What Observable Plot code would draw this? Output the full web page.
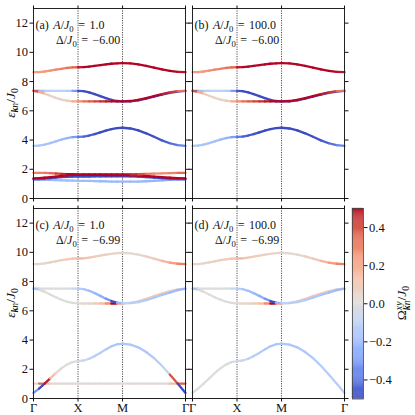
<!DOCTYPE html>
<html>
<head>
<meta charset="utf-8">
<script src="https://cdn.jsdelivr.net/npm/d3@7"></script>
<script src="https://cdn.jsdelivr.net/npm/@observablehq/plot@0.6"></script>
<style>
  html, body { margin: 0; padding: 0; background: #fff; }
  #root { position: relative; width: 415px; height: 415px; overflow: hidden; font-family: "Liberation Serif", "DejaVu Serif", serif; color: #111; }
  .abs { position: absolute; }
  .ann { position: absolute; font-size: 12px; line-height: 13px; white-space: nowrap; word-spacing: 1.5px; }
  sub { font-size: 0.72em; vertical-align: -0.3em; line-height: 0; }
  .rot { position: absolute; white-space: nowrap; font-size: 13.5px; transform: translate(-50%, -50%) rotate(-90deg); }
</style>
</head>
<body>
<div id="root"></div>
<script>
// ---- k-path (Γ → X → M → Γ) and its ticks ----
const kPath = [0,0.125,0.25,0.375,0.5,0.625,0.75,0.875,1,
  1.125,1.25,1.375,1.5,1.625,1.75,1.875,2,
  2.177,2.354,2.530,2.707,2.884,3.061,3.237,3.414];
const kTicks = [0, 1, 2, 3.414];
const kLabels = ["Γ", "X", "M", "Γ"];
const yTicks = [0, 2, 4, 6, 8, 10, 12];
const cbTicks = [-0.4, -0.2, 0, 0.2, 0.4];

// ---- Δ/J0 = -6.00 bands (energies) ----
const e6Top = [8.64,8.65,8.69,8.75,8.81,8.87,8.93,8.97,8.98, 8.99,9.02,9.07,9.12,9.17,9.22,9.25,9.26, 9.24,9.17,9.07,8.95,8.83,8.73,8.66,8.64];
const e6U2  = [7.37,7.37,7.37,7.37,7.37,7.37,7.37,7.37,7.37, 7.34,7.26,7.14,7.01,6.87,6.75,6.67,6.64, 6.65,6.72,6.83,6.97,7.10,7.22,7.31,7.36];
const e6U3  = [7.37,7.30,7.18,7.03,6.89,6.77,6.69,6.65,6.64, 6.64,6.64,6.64,6.64,6.64,6.64,6.64,6.64, 6.67,6.75,6.87,7.01,7.14,7.26,7.34,7.37];
const e6U4  = [3.60,3.62,3.69,3.79,3.91,4.03,4.13,4.20,4.22, 4.24,4.31,4.41,4.53,4.65,4.75,4.82,4.84, 4.79,4.66,4.46,4.22,3.98,3.78,3.65,3.60];
const e6B1  = [1.76,1.76,1.75,1.73,1.71,1.69,1.67,1.66,1.65, 1.65,1.65,1.65,1.65,1.65,1.65,1.65,1.65, 1.65,1.66,1.68,1.70,1.72,1.74,1.75,1.76];
const e6B2  = [1.38,1.39,1.42,1.46,1.50,1.55,1.59,1.61,1.62, 1.62,1.62,1.61,1.61,1.60,1.60,1.60,1.60, 1.59,1.57,1.54,1.50,1.46,1.42,1.39,1.38];
const e6B3  = [1.34,1.35,1.37,1.40,1.43,1.46,1.48,1.50,1.50, 1.50,1.50,1.51,1.51,1.52,1.52,1.52,1.52, 1.51,1.49,1.46,1.43,1.40,1.37,1.35,1.34];
const e6B4  = [1.30,1.30,1.29,1.27,1.26,1.24,1.23,1.22,1.21, 1.21,1.20,1.19,1.18,1.17,1.16,1.15,1.15, 1.15,1.16,1.18,1.21,1.24,1.27,1.29,1.30];

// ---- Δ/J0 = -6.00 Berry curvature ----
const w6Top = [0.24,0.24,0.25,0.27,0.29,0.31,0.33,0.36,0.48, 0.50,0.50,0.50,0.50,0.50,0.50,0.50,0.50, 0.50,0.50,0.50,0.50,0.50,0.50,0.49,0.48];
const w6U2  = [-0.35,-0.20,-0.13,-0.11,-0.11,-0.11,-0.14,-0.30,-0.48, -0.50,-0.50,-0.50,-0.50,-0.50,-0.50,-0.50,-0.50, -0.50,-0.50,-0.50,-0.50,-0.50,-0.49,-0.47,-0.45];
const w6U3  = [0.40,0.20,0.08,0.05,0.05,0.06,0.10,0.20,0.28, 0.34,0.38,0.42,0.46,0.49,0.50,0.50,0.50, 0.50,0.50,0.50,0.50,0.48,0.44,0.34,0.28];
const w6U4  = [-0.16,-0.16,-0.17,-0.18,-0.19,-0.21,-0.24,-0.30,-0.40, -0.45,-0.47,-0.49,-0.50,-0.50,-0.50,-0.50,-0.50, -0.50,-0.50,-0.50,-0.48,-0.46,-0.42,-0.36,-0.30];
const w6B1  = [0.30,0.30,0.32,0.36,0.42,0.47,0.50,0.50,0.50, 0.50,0.50,0.50,0.50,0.50,0.50,0.50,0.50, 0.46,0.40,0.32,0.28,0.28,0.30,0.35,0.35];
const w6B2  = [0.50,0.50,0.50,0.50,0.50,0.50,0.50,0.50,0.50, 0.50,0.50,0.50,0.50,0.50,0.50,0.50,0.50, 0.50,0.50,0.50,0.50,0.50,0.50,0.50,0.50];
const w6B3  = [-0.45,-0.47,-0.50,-0.50,-0.50,-0.50,-0.50,-0.50,-0.50, -0.50,-0.50,-0.50,-0.50,-0.50,-0.50,-0.50,-0.50, -0.50,-0.50,-0.50,-0.50,-0.50,-0.48,-0.46,-0.45];
const w6B4  = [-0.38,-0.32,-0.26,-0.22,-0.20,-0.20,-0.20,-0.20,-0.20, -0.20,-0.20,-0.20,-0.22,-0.22,-0.22,-0.22,-0.22, -0.22,-0.22,-0.22,-0.24,-0.26,-0.30,-0.35,-0.38];

// ---- Δ/J0 = -6.99 bands (energies) ----
const e7Top  = [9.19,9.20,9.25,9.31,9.39,9.46,9.52,9.57,9.58, 9.59,9.64,9.70,9.77,9.84,9.90,9.95,9.96, 9.93,9.85,9.72,9.57,9.41,9.30,9.22,9.19];
const e7U2   = [7.52,7.52,7.52,7.52,7.52,7.52,7.52,7.52,7.52, 7.48,7.37,7.21,7.02,6.83,6.67,6.56,6.52, 6.53,6.60,6.73,6.90,7.08,7.25,7.41,7.52];
const e7U3   = [7.52,7.45,7.30,7.12,6.93,6.76,6.62,6.54,6.51, 6.50,6.50,6.50,6.50,6.50,6.50,6.50,6.50, 6.54,6.65,6.81,7.00,7.18,7.34,7.46,7.52];
const e7Low  = [0.38,0.68,1.02,1.38,1.74,2.06,2.32,2.49,2.55, 2.60,2.72,2.90,3.12,3.36,3.57,3.71,3.76, 3.69,3.50,3.18,2.76,2.24,1.64,1.02,0.38];
const e7Flat = [1.02,1.02,1.02,1.02,1.02,1.02,1.02,1.02,1.02, 1.02,1.02,1.02,1.02,1.02,1.02,1.02,1.02, 1.02,1.02,1.02,1.02,1.02,1.02,1.02,1.02];

// ---- Δ/J0 = -6.99 Berry curvature ----
const w7Top   = [0.04,0.04,0.05,0.06,0.07,0.08,0.10,0.13,0.17, 0.13,0.10,0.08,0.07,0.06,0.05,0.04,0.03, 0.03,0.04,0.07,0.11,0.17,0.24,0.30,0.34];
const w7U2    = [-0.18,-0.03,0.00,0.00,0.00,0.00,-0.02,-0.07,-0.14, -0.17,-0.20,-0.22,-0.25,-0.32,-0.50,-0.22,-0.12, -0.13,-0.14,-0.15,-0.16,-0.18,-0.20,-0.22,-0.22];
const w7U3    = [0.06,0.02,0.00,0.00,0.00,0.00,0.00,0.01,0.02, 0.03,0.05,0.09,0.14,0.28,0.50,0.22,0.10, 0.08,0.10,0.11,0.11,0.09,0.07,0.05,0.03];
const w7LowC  = [-0.32,-0.50,0.48,0.14,0.03,0.01,0.00,-0.02,-0.05, -0.08,-0.11,-0.13,-0.14,-0.15,-0.16,-0.16,-0.16, -0.16,-0.16,-0.15,-0.13,-0.08,0.40,-0.50,-0.30];
const w7LowD  = [0.00,0.00,0.00,0.00,0.00,0.00,-0.01,-0.03,-0.05, -0.08,-0.11,-0.13,-0.14,-0.15,-0.16,-0.16,-0.16, -0.16,-0.16,-0.15,-0.14,-0.13,-0.13,-0.13,-0.13];
const w7Flat  = [0.03,0.35,0.15,0.03,0.02,0.02,0.02,0.02,0.02, 0.02,0.02,0.02,0.02,0.02,0.02,0.02,0.02, 0.02,0.02,0.02,0.02,0.02,0.15,0.38,0.03];

// ---- colour map (coolwarm) ----
const cmapDomain = [-0.5,-0.375,-0.25,-0.125,0,0.125,0.25,0.375,0.5];
const cmapRange  = ["#3b4cc0","#6282ea","#8db0fe","#b8d0f9","#dddddd","#f5c4ad","#f49a7b","#de604d","#b40426"];
const colorOpts = {type: "linear", domain: cmapDomain, range: cmapRange, interpolate: "lab", clamp: true};

const panels = [
  {id: "a", A: "1.0", D: "−6.00", frameX: 33, frameY: 8, showX: false, showY: true,
   bands: [[e6B4,w6B4],[e6B3,w6B3],[e6B2,w6B2],[e6B1,w6B1],[e6U4,w6U4],[e6U2,w6U2],[e6U3,w6U3],[e6Top,w6Top]]},
  {id: "b", A: "100.0", D: "−6.00", frameX: 192, frameY: 8, showX: false, showY: false,
   bands: [[e6U4,w6U4],[e6U2,w6U2],[e6U3,w6U3],[e6Top,w6Top]]},
  {id: "c", A: "1.0", D: "−6.99", frameX: 33, frameY: 208.3, showX: true, showY: true,
   bands: [[e7Flat,w7Flat],[e7Low,w7LowC],[e7U3,w7U3],[e7U2,w7U2],[e7Top,w7Top]]},
  {id: "d", A: "100.0", D: "−6.99", frameX: 192, frameY: 208.3, showX: true, showY: false,
   bands: [[e7Low,w7LowD],[e7U3,w7U3],[e7U2,w7U2],[e7Top,w7Top]]}
];

const root = document.getElementById("root");
const FW = 152, FH = 190;

for (const p of panels) {
  const segs = [];
  p.bands.forEach(([E, W], b) => {
    for (let i = 0; i < kPath.length - 1; i++) {
      segs.push({band: b, k1: kPath[i], e1: E[i], k2: kPath[i+1], e2: E[i+1], w: W[i]});
    }
  });
  const mL = 8, mR = 8, mT = 8, mB = p.showX ? 17 : 8;
  const chart = Plot.plot({
    width: mL + FW + mR, height: mT + FH + mB,
    marginLeft: mL, marginRight: mR, marginTop: mT, marginBottom: mB,
    style: {background: "transparent", fontFamily: "Liberation Serif, serif", fontSize: "12px", color: "#111", overflow: "visible"},
    x: {domain: [0, 3.414], label: null},
    y: {domain: [0, 13], label: null},
    color: colorOpts,
    marks: [
      Plot.ruleX(kTicks.slice(1, 3), {stroke: "#222", strokeWidth: 0.8, strokeDasharray: "1.2,1.2"}),
      Plot.link(segs, {x1: "k1", y1: "e1", x2: "k2", y2: "e2", stroke: "w", strokeWidth: 2.3, strokeLinecap: "round"}),
      Plot.frame({stroke: "#222", strokeWidth: 1}),
      Plot.axisY(yTicks, {anchor: "left", tickSize: 3.5, tickPadding: 2, label: null,
        tickFormat: p.showY ? (d => String(d)) : (() => ""), fontSize: 12.5}),
      Plot.axisY(yTicks, {anchor: "right", tickSize: 3.5, label: null, tickFormat: () => ""}),
      Plot.axisX(kTicks, {anchor: "bottom", tickSize: 3.5, tickPadding: 1, label: null,
        tickFormat: p.showX ? (d => kLabels[kTicks.indexOf(d)]) : (() => ""), fontSize: 12.5}),
      Plot.axisX(kTicks, {anchor: "top", tickSize: 3.5, label: null, tickFormat: () => ""})
    ]
  });
  const holder = document.createElement("div");
  holder.className = "abs";
  holder.style.left = (p.frameX - mL) + "px";
  holder.style.top = (p.frameY - mT) + "px";
  holder.style.width = (mL + FW + mR) + "px";
  holder.appendChild(chart);
  root.appendChild(holder);

  const a1 = document.createElement("div");
  a1.className = "ann";
  a1.style.left = (p.frameX + 2.5) + "px";
  a1.style.top = (p.frameY + 11) + "px";
  a1.innerHTML = `(${p.id}) <i>A</i>/<i>J</i><sub>0</sub> = ${p.A}`;
  root.appendChild(a1);
  const a2 = document.createElement("div");
  a2.className = "ann";
  a2.style.left = (p.frameX + 23) + "px";
  a2.style.top = (p.frameY + 25.5) + "px";
  a2.innerHTML = `Δ/<i>J</i><sub>0</sub> = ${p.D}`;
  root.appendChild(a2);

  if (p.showY) {
    const yl = document.createElement("div");
    yl.className = "rot";
    yl.style.left = "11px";
    yl.style.top = (p.frameY + 95) + "px";
    yl.innerHTML = `<i>ε</i><sub><b><i>k</i></b><i>n</i></sub>/<i>J</i><sub>0</sub>`;
    root.appendChild(yl);
  }
}

// ---- colour bar ----
const cbStep = 0.005;
const cbCells = d3.range(-0.5, 0.5, cbStep);
const cb = Plot.plot({
  width: 11 + 45, height: 8 + 190.5 + 8,
  marginLeft: 0, marginRight: 45, marginTop: 8, marginBottom: 8,
  style: {background: "transparent", fontFamily: "Liberation Serif, serif", fontSize: "12px", color: "#111", overflow: "visible"},
  x: {domain: [0, 1], label: null},
  y: {domain: [-0.5, 0.5], label: null},
  color: colorOpts,
  marks: [
    Plot.rect(cbCells, {x1: 0, x2: 1, y1: d => d, y2: d => d + cbStep, fill: d => d + cbStep / 2, stroke: d => d + cbStep / 2, strokeWidth: 0.3}),
    Plot.frame({stroke: "#444", strokeWidth: 0.8}),
    Plot.axisY(cbTicks, {anchor: "right", tickSize: 3.5, tickPadding: 2, label: null, tickFormat: d3.format(".1f"), fontSize: 12.5}),
    Plot.axisX([], {axis: null})
  ]
});
const cbHolder = document.createElement("div");
cbHolder.className = "abs";
cbHolder.style.left = "352px";
cbHolder.style.top = (207.5 - 8) + "px";
cbHolder.style.width = "56px";
cbHolder.appendChild(cb);
root.appendChild(cbHolder);

const cl = document.createElement("div");
cl.className = "rot";
cl.style.left = "403px";
cl.style.top = "303px";
cl.innerHTML = `Ω<span style="display:inline-block;vertical-align:-0.45em;line-height:0.85;font-size:0.72em;"><i>xy</i><br><b><i>k</i></b><i>n</i></span>/<i>J</i><sub>0</sub>`;
root.appendChild(cl);
</script>
</body>
</html>
